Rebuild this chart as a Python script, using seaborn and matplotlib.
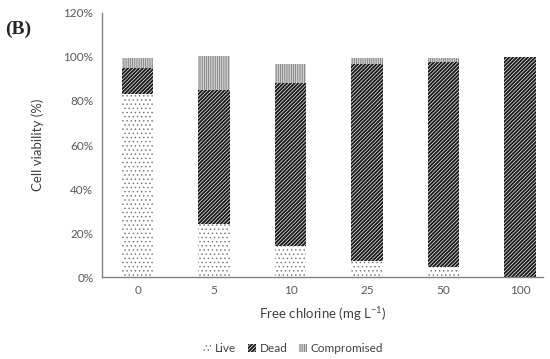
import numpy as np
import pandas as pd
import matplotlib
matplotlib.use('Agg')
import matplotlib.pyplot as plt
import seaborn as sns
from matplotlib.patches import Patch

sns.set_style('white')
plt.rcParams['font.family'] = ['Lato', 'DejaVu Sans']
plt.rcParams['mathtext.fontset'] = 'custom'
plt.rcParams['mathtext.rm'] = 'Lato'

# data (%)
doses = ['0', '5', '10', '25', '50', '100']
live = [83, 24, 14, 7.5, 4.5, 0]
dead = [12, 61, 74, 89.5, 93, 100]
comp = [4.5, 15.5, 9, 2.5, 2, 0]

df = pd.DataFrame({'dose': doses, 'Live': live, 'Dead': dead, 'Compromised': comp})
df['top_dead'] = df['Live'] + df['Dead']
df['top_comp'] = df['top_dead'] + df['Compromised']

fig = plt.figure(figsize=(5.5, 3.59), dpi=100)
ax = fig.add_axes([0.185, 0.228, 0.802, 0.736])

styles = {
    'Compromised': dict(hatch='|||||||||', edgecolor='#8c8c8c', lw=0.9),
    'Dead': dict(hatch='/////////', edgecolor='#1a1a1a', lw=1.4),
    'Live': dict(hatch='....', edgecolor='#6e6e6e', lw=0.5),
}

def set_hatch_lw(patch, lw):
    if hasattr(patch, 'set_hatch_linewidth'):
        patch.set_hatch_linewidth(lw)

# stacked bars drawn back to front
for col, name in [('top_comp', 'Compromised'), ('top_dead', 'Dead'), ('Live', 'Live')]:
    plt.rcParams['hatch.linewidth'] = styles[name]['lw']
    n_before = len(ax.patches)
    sns.barplot(data=df, x='dose', y=col, ax=ax, color='white', width=0.41,
                linewidth=0, hatch=styles[name]['hatch'],
                edgecolor=styles[name]['edgecolor'], saturation=1)
    for p in ax.patches[n_before:]:
        set_hatch_lw(p, styles[name]['lw'])

ax.set_ylim(0, 120)
ax.set_xlim(-0.47, 5.3)
ax.set_yticks(np.arange(0, 121, 20))
ax.set_yticklabels([f'{v}%' for v in range(0, 121, 20)])
ax.tick_params(axis='both', colors='#595959', labelsize=8.5, length=0, pad=6)
for s in ['top', 'right']:
    ax.spines[s].set_visible(False)
for s in ['left', 'bottom']:
    ax.spines[s].set_color('#808080')
    ax.spines[s].set_linewidth(1)

ax.set_xlabel('Free chlorine (mg L$^{\\mathrm{-1}}$)', fontsize=9.5, color='#404040', labelpad=6)
ax.set_ylabel('Cell viability (%)', fontsize=9.5, color='#404040', labelpad=14)

handles = []
for n in ['Live', 'Dead', 'Compromised']:
    h = Patch(facecolor='white', linewidth=0, hatch=styles[n]['hatch'],
              edgecolor=styles[n]['edgecolor'], label=n)
    set_hatch_lw(h, styles[n]['lw'])
    handles.append(h)
leg = fig.legend(handles=handles, loc='center', bbox_to_anchor=(0.533, 0.028), ncol=3,
                 frameon=False, fontsize=8.5, handlelength=0.7, handleheight=0.7,
                 handletextpad=0.3, columnspacing=1.0, labelcolor='#404040')
for h, n in zip(leg.get_patches(), ['Live', 'Dead', 'Compromised']):
    set_hatch_lw(h, styles[n]['lw'])

fig.text(0.01, 0.905, '(B)', fontsize=14, fontweight='bold', family='Liberation Serif')

fig.savefig('out.png', dpi=100)
